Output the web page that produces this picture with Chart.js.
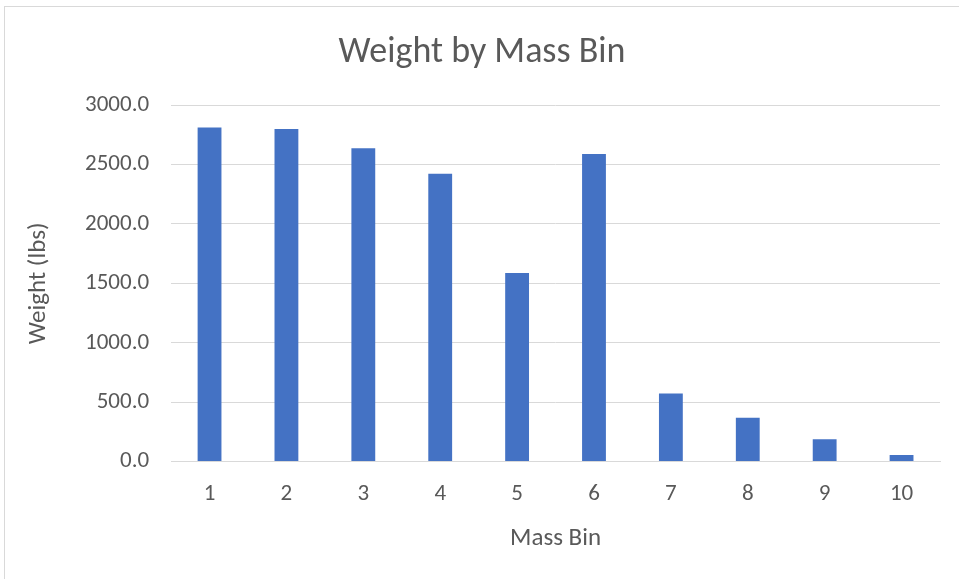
<!DOCTYPE html>
<html>
<head>
<meta charset="utf-8">
<script src="https://cdn.jsdelivr.net/npm/chart.js@4.4.0/dist/chart.umd.min.js"></script>
<style>
  html, body { margin: 0; padding: 0; background: #fff; overflow: hidden; }
  #frame { position: absolute; left: 4px; top: 6px; width: 1000px; height: 620px; border: 1px solid #d9d9d9; }
  #wrap { position: absolute; left: 0; top: 0; width: 959px; height: 579px; }
</style>
</head>
<body>
<div id="frame"></div>
<div id="wrap"><canvas id="chart"></canvas></div>
<script>
const BINS = ['1', '2', '3', '4', '5', '6', '7', '8', '9', '10'];
const WEIGHTS = [2812, 2800, 2637, 2423, 1587, 2590, 573, 369, 187, 55];

const FONT = "Calibri, Carlito, 'Open Sans', sans-serif";
const TEXT = '#595959';
const GRID = '#d9d9d9';

const ctx = document.getElementById('chart').getContext('2d');

new Chart(ctx, {
    type: 'bar',
    data: {
        labels: BINS,
        datasets: [{
            label: 'Weight (lbs)',
            data: WEIGHTS,
            backgroundColor: '#4472c4',
            borderWidth: 0,
            barPercentage: 0.31,
            categoryPercentage: 1
        }]
    },
    options: {
        responsive: true,
        maintainAspectRatio: false,
        animation: false,
        layout: { padding: { left: 24, right: 19, top: 31, bottom: 28 } },
        plugins: {
            legend: { display: false },
            tooltip: { enabled: false },
            title: {
                display: true,
                text: 'Weight by Mass Bin',
                color: TEXT,
                font: { family: FONT, size: 36, weight: 'normal' },
                padding: { top: 0, bottom: 31 }
            }
        },
        scales: {
            x: {
                grid: { display: false, drawTicks: false },
                border: { display: true, color: GRID, width: 1 },
                ticks: { color: TEXT, font: { family: FONT, size: 23, lineHeight: 0.54 }, padding: 26 },
                title: {
                    display: true,
                    text: 'Mass Bin',
                    color: TEXT,
                    font: { family: FONT, size: 25, lineHeight: 1 },
                    padding: { top: 0, bottom: 0 }
                }
            },
            y: {
                min: 0,
                max: 3000,
                grid: { color: GRID, drawTicks: false },
                border: { display: false },
                ticks: {
                    stepSize: 500,
                    color: TEXT,
                    font: { family: FONT, size: 23 },
                    padding: 22,
                    callback: v => v.toFixed(1)
                },
                title: {
                    display: true,
                    text: 'Weight (lbs)',
                    color: TEXT,
                    font: { family: FONT, size: 25 },
                    padding: { top: 0, bottom: 9 }
                }
            }
        }
    }
});
</script>
</body>
</html>
